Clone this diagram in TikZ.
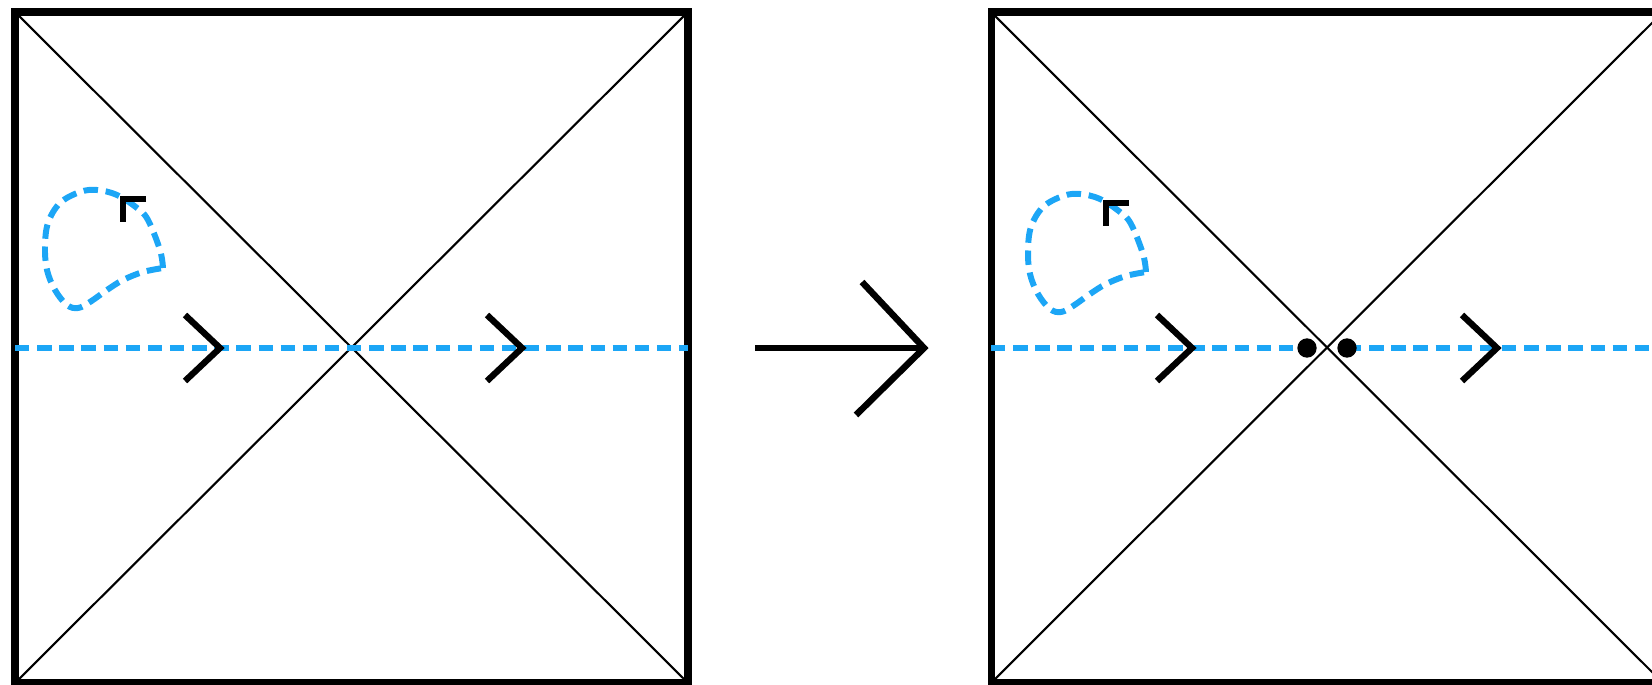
\documentclass[tikz,border=0pt]{standalone}
\usepackage{tikz}
\usetikzlibrary{arrows.meta}
\definecolor{cflow}{RGB}{28,166,246}
\tikzset{
  frame/.style={draw, line width=4pt, line join=miter},
  diag/.style={draw, line width=1.2pt},
  flow/.style={draw=cflow, line width=3.4pt, dash pattern=on 8.2pt off 4.4pt},
  chev/.style={draw, line width=3.6pt, line join=miter},
  tipmark/.style={draw, line width=3.8pt, line join=miter},
  bigarr/.style={draw, line width=3.7pt, line join=miter},
  dotn/.style={circle, fill=black, inner sep=0pt, minimum size=11pt},
}
% small loop with its corner mark, drawn at an offset
\newcommand{\swirl}[2]{%
  \begin{scope}[shift={(#1,#2)}]
    \draw[flow] plot[smooth, tension=0.6] coordinates {(163,268) (160,250) (148,220) (137,208) (117,195) (97,190) (80,192) (60,203) (48,223) (45,247) (47,270) (55,290) (67,305) (78,308) (90,302) (107,290) (123,280) (143,272) (163,268)};
    \draw[tipmark] (146,199) -- (123,199) -- (123,222);
  \end{scope}}
\newcommand{\chevron}[1]{\draw[chev] (#1-35,315) -- (#1,348) -- (#1-35,381);}

\begin{document}
\begin{tikzpicture}[x=0.02cm, y=-0.02cm]
\useasboundingbox (0,0) rectangle (1652,685);
% left square
\coordinate (LA) at (15,12);
\coordinate (LB) at (688,683);
\coordinate (LC) at (15,683);
\coordinate (LD) at (688,12);
\draw[diag] (LA) -- (LB);
\draw[diag] (LC) -- (LD);
\draw[frame] (LA) rectangle (LB);
\coordinate (Lin) at (15,348);
\coordinate (Lout) at (688,348);
\draw[flow] (Lin) -- (Lout);
\chevron{220}
\chevron{522}
\swirl{0}{0}

% map arrow
\coordinate (As) at (755,348);
\coordinate (At) at (924,348);
\draw[bigarr] (As) -- (At);
\draw[bigarr] (862,282) -- (At) -- (856,415);

% right square
\coordinate (RA) at (991,12);
\coordinate (RB) at (1663,683);
\coordinate (RC) at (991,683);
\coordinate (RD) at (1663,12);
\draw[diag] (RA) -- (RB);
\draw[diag] (RC) -- (RD);
\draw[frame] (RA) rectangle (RB);
\coordinate (Rin) at (991,348);
\coordinate (Rout) at (1664,348);
\coordinate (dlc) at (1307,348);
\coordinate (drc) at (1347,348);
\draw[flow] (Rin) -- (dlc);
\draw[flow] (drc) -- (Rout);
\node[dotn] (dl) at (dlc) {};
\node[dotn] (dr) at (drc) {};
\chevron{1192}
\chevron{1497}
\swirl{983}{4}
\end{tikzpicture}
\end{document}
